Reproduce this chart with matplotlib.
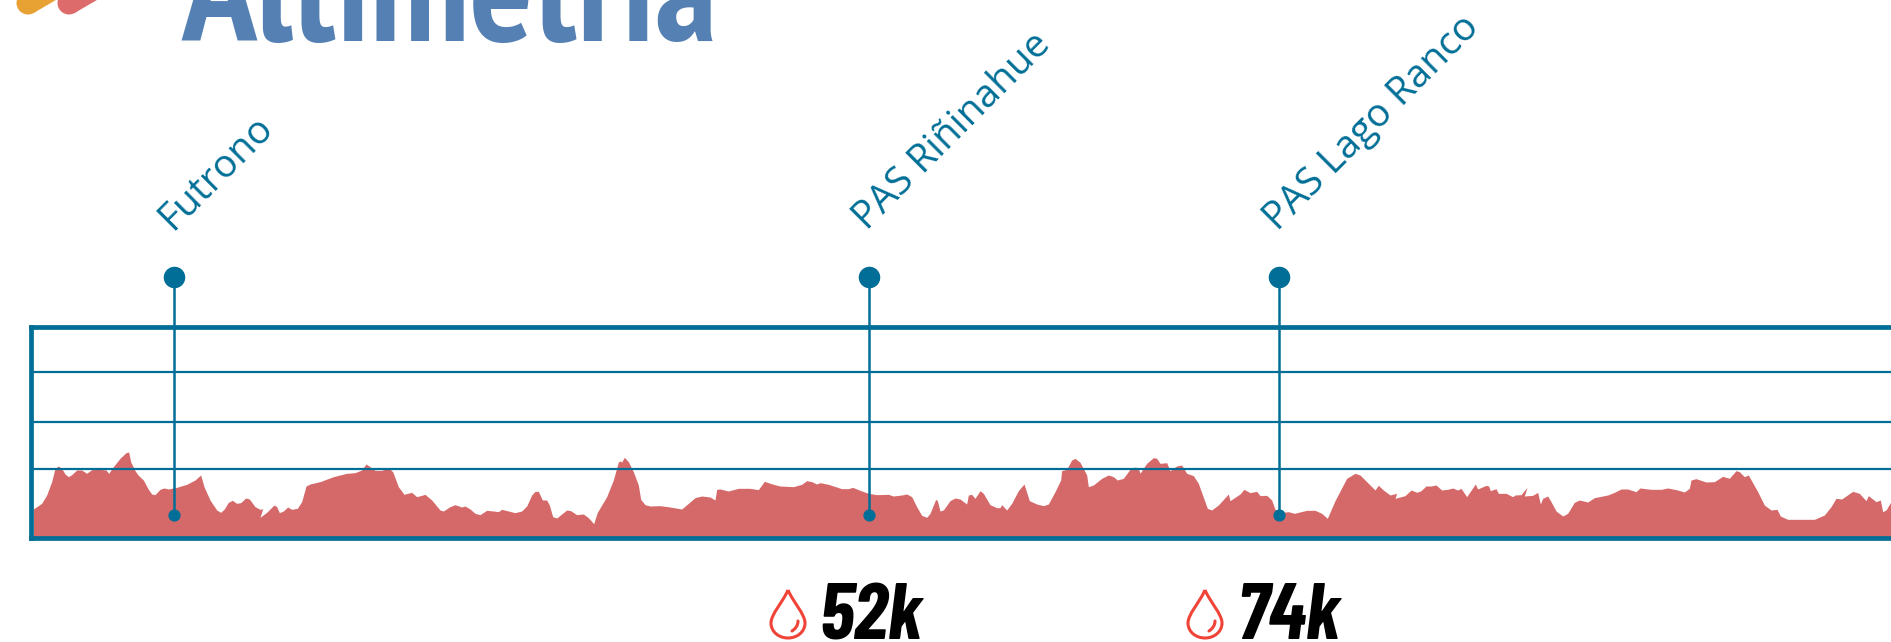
import matplotlib
matplotlib.use("Agg")
import matplotlib.pyplot as plt
from matplotlib.patches import PathPatch, Circle, Polygon
from matplotlib.path import Path

W, H = 1891, 642
BLUE = "#006e96"
RED = "#d56969"

# Profile, one list pair per stretch of the route
start_a = 0
dist_a = [100, 125, 140, 155, 165, 175, 185, 195, 205, 215, 230, 245, 260, 275, 300, 318, 326, 340, 360, 378, 386,
          392, 405, 415, 430, 445, 455, 465, 480, 492, 505, 530, 560, 585, 602, 612, 630, 650, 662, 672, 685, 697,
          710, 722, 737, 748, 765, 780, 788, 780, 800, 822, 830, 838, 850, 863, 875, 892, 905, 918, 930, 960, 1000,
          1040, 1065, 1085, 1098, 1110, 1125, 1145, 1165, 1178, 1195, 1212, 1235, 1250, 1265, 1275, 1295, 1320,
          1330, 1350, 1365, 1385, 1395, 1410, 1425]
elev_a = [87, 104, 129, 169, 209, 216, 209, 192, 184, 190, 204, 204, 194, 205, 206, 204, 194, 214, 239, 256, 258,
          229, 202, 188, 174, 146, 132, 130, 146, 150, 147, 152, 161, 174, 189, 154, 114, 84, 77, 86, 107, 113,
          104, 106, 120, 117, 94, 86, 88, 62, 77, 99, 94, 76, 81, 93, 86, 89, 109, 156, 162, 169, 184,
          194, 196, 204, 222, 214, 203, 203, 211, 199, 154, 131, 137, 124, 128, 131, 114, 84,
          81, 94, 100, 93, 96, 87, 74]

start_b = 1440
dist_b = [0, 20, 40, 55, 65, 85, 105, 125, 140, 155, 165, 175, 187, 200, 208, 218, 230, 245, 260, 272, 290, 310,
          325, 341, 352, 380, 400, 415, 420, 425, 433, 445, 460, 475, 482, 495, 510, 540, 570, 605, 625, 645, 665,
          690, 705, 710, 720, 745, 775, 810, 835, 853, 880, 900, 940, 965, 980, 995, 1010, 1020, 1045, 1085, 1105,
          1118, 1140, 1165, 1190, 1225, 1240, 1265, 1280, 1295, 1310, 1325, 1340, 1350, 1367, 1372, 1380, 1390,
          1410, 1425]
elev_b = [70, 83, 81, 79, 86, 81, 76, 81, 96, 129, 140, 140, 114, 114, 99, 64, 60, 72, 84, 82, 70, 72,
          61, 43, 77, 124, 174, 228, 231, 228, 242, 229, 199, 159, 116, 100, 96, 97, 93, 87, 104, 121, 126,
          123, 114, 146, 147, 141, 149, 149, 145, 170, 161, 156, 154, 161, 172, 169, 162, 166, 161, 148, 148,
          152, 143, 134, 130, 131, 126, 129, 132, 124, 94, 68, 62, 74, 116, 112, 81, 84,
          112, 120]

start_c = 2880
dist_c = [0, 20, 25, 35, 45, 60, 70, 90, 110, 120, 125, 140, 155, 175, 192, 208, 230, 250, 265, 285, 302, 305,
          320, 335, 345, 360, 380, 385, 400, 425, 445, 460, 472, 490, 510, 525, 535, 540, 560, 580, 590, 600, 620,
          630, 650, 665, 680, 700, 715, 742, 755, 775, 805, 810, 840, 852, 870, 890, 900, 920, 935, 945, 960, 985,
          1003, 1040, 1065, 1085, 1102, 1125, 1160, 1185, 1200, 1245, 1255, 1270, 1290, 1310, 1305, 1335]
elev_c = [117, 102, 129, 131, 119, 142, 134, 100, 91, 91, 100, 84, 104, 142, 162, 112, 102, 97, 102, 139, 174, 202,
          206, 234, 239, 227, 189, 154, 159, 179, 189, 184, 174, 179, 206, 213, 209, 194, 224, 241, 239, 224, 226,
          202, 216, 219, 194, 187, 164, 89, 84, 99, 132, 112, 132, 146, 136, 140, 127, 128, 114, 86, 76, 79,
          74, 83, 83, 74, 59, 112, 179, 194, 189, 144, 158, 144, 129, 134, 119, 127]

start_d = 4233
dist_d = [0, 18, 30, 45, 60, 75, 92, 110, 125, 140, 150, 167, 193, 200, 225, 233, 238, 255, 262, 285, 305, 312,
          330, 348, 340, 365, 380, 388, 395, 410, 420, 435, 455, 470, 490, 505, 530, 550, 590, 610, 630, 650, 675,
          687, 720, 750, 770, 800, 820, 835, 840, 855, 885, 910, 935, 955, 975, 985, 1000, 1012, 1040, 1060, 1080,
          1098, 1108, 1130, 1210, 1240, 1260, 1275, 1292, 1325, 1345, 1365, 1372, 1395, 1408, 1415, 1425, 1440]
elev_d = [144, 137, 142, 156, 156, 159, 144, 146, 150, 144, 149, 124, 162, 147, 158, 156, 142, 148, 134, 134, 124, 129,
          130, 152, 126, 128, 137, 102, 119, 126, 109, 81, 66, 74, 107, 114, 108, 121, 129, 137, 147, 147, 139,
          150, 146, 146, 150, 144, 138, 149, 174, 178, 168, 169, 185, 179, 202, 199, 184, 189, 139, 99, 84,
          86, 66, 56, 56, 69, 94, 119, 117, 140, 134, 112, 127, 109, 114, 79, 84, 109]

grid_levels = [207, 348, 498]
pin_names = ["Futrono", "PAS Riñinahue", "PAS Lago Ranco"]
pin_dist = [523, 2607, 3838]
hydration_names = ["52k", "74k"]
hydration_drop_x = [788, 1205]
hydration_text_x = [819, 1236]

distance, elevation = [], []
for start, ds, es in [(start_a, dist_a, elev_a), (start_b, dist_b, elev_b),
                      (start_c, dist_c, elev_c), (start_d, dist_d, elev_d)]:
    distance += [start + d for d in ds]
    elevation += es

fig = plt.figure(figsize=(W / 100, H / 100), dpi=100, facecolor="white")

# Frame: one data unit is a third of a pixel, right side runs off the page
ax = fig.add_axes([31 / W, (H - 538) / H, (W - 31) / W, 211 / H])
ax.set_xlim(93, 3 * W)
ax.set_ylim(0, 633)
ax.fill_between(distance, elevation, 0, color=RED, lw=0, zorder=1)
ax.set_yticks(grid_levels)
ax.set_xticks([])
ax.tick_params(left=False, labelleft=False)
ax.grid(axis="y", color=BLUE, lw=1.6, zorder=2)
ax.set_axisbelow(False)
for side in ["left", "top", "bottom"]:
    ax.spines[side].set_color(BLUE)
    ax.spines[side].set_linewidth(3.4)
    ax.spines[side].set_zorder(5)
ax.spines["right"].set_visible(False)

# Pins with their rotated names
for name, d in zip(pin_names, pin_dist):
    ax.plot([d, d], [70, 783], color=BLUE, lw=1.8, clip_on=False, zorder=6)
    ax.plot(d, 783, "o", color=BLUE, ms=15.5, mew=0, clip_on=False, zorder=6)
    ax.plot(d, 70, "o", color=BLUE, ms=8.8, mew=0, clip_on=False, zorder=6)
    ax.annotate(name, xy=(d, 783), xytext=(-1.5, 33), textcoords="offset points",
                rotation=45, rotation_mode="anchor", ha="left", va="baseline",
                color=BLUE, fontsize=28, family=["Open Sans", "DejaVu Sans"], annotation_clip=False)

# Page furniture in pixel coordinates
over = fig.add_axes([0, 0, 1, 1], facecolor="none")
over.set_xlim(0, W)
over.set_ylim(H, 0)
over.axis("off")
for cx, colour in [(28, "#e8a233"), (69, "#de6b6b")]:
    over.add_patch(Circle((cx, 3), 11.5, fc=colour, ec="none"))
    over.add_patch(Polygon([(cx + 5.7, 13), (cx + 45, -10), (cx + 30, -30), (cx - 5.7, -7)], fc=colour, ec="none"))

over.text(181, 41, "Altimetría", color="#5480b3", fontsize=108, fontweight="bold",
          family=["PT Sans Narrow", "Liberation Sans"], ha="left", va="baseline")


def draw_drop(cx):
    top = 590
    verts = [(cx, top), (cx - 5, top + 12), (cx - 17, top + 24), (cx - 17, top + 33),
             (cx - 17, top + 42), (cx - 9, top + 48), (cx, top + 48),
             (cx + 9, top + 48), (cx + 17, top + 42), (cx + 17, top + 33),
             (cx + 17, top + 24), (cx + 5, top + 12), (cx, top)]
    codes = [Path.MOVETO] + [Path.CURVE4] * 12
    over.add_patch(PathPatch(Path(verts, codes), fc="none", ec="#f04438", lw=2.2))
    glint = [(cx + 10, top + 31), (cx + 10, top + 36), (cx + 7, top + 39), (cx + 4, top + 41)]
    over.add_patch(PathPatch(Path(glint, [Path.MOVETO] + [Path.CURVE4] * 3),
                             fc="none", ec="#f04438", lw=2.2, capstyle="round"))


for name, dx, tx in zip(hydration_names, hydration_drop_x, hydration_text_x):
    draw_drop(dx)
    over.text(tx, 639, name, color="black", fontsize=58, fontweight=700, fontstyle="italic",
              family=["Barlow Condensed", "Liberation Sans"], ha="left", va="baseline")

fig.savefig("out.png", dpi=100)
